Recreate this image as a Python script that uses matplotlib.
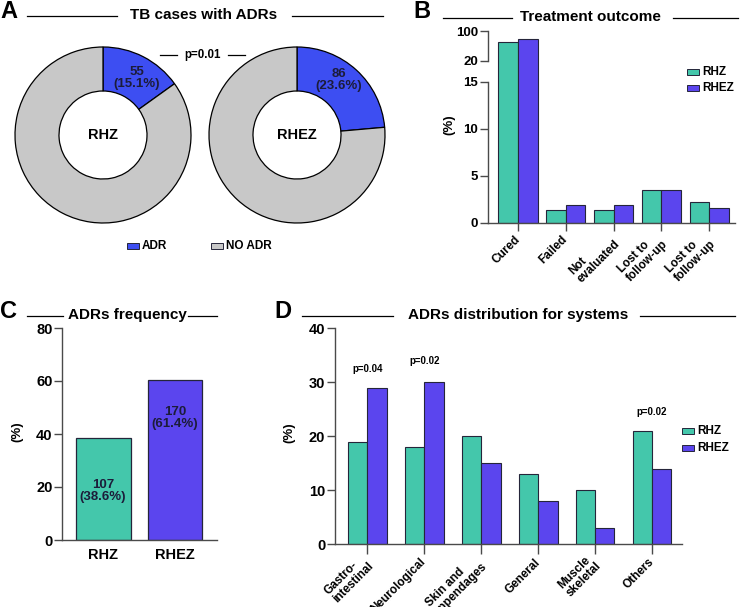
import numpy as np
import matplotlib
matplotlib.use('Agg')
import matplotlib.pyplot as plt
import matplotlib.transforms as mtrans
from matplotlib.patches import Rectangle
from matplotlib.lines import Line2D

plt.rcParams['font.family'] = ['Liberation Sans', 'DejaVu Sans']
plt.rcParams['font.weight'] = 'bold'

# ---- data ----
adr_groups = ['RHZ', 'RHEZ']
adr_counts = [55, 86]
adr_pct = [15.1, 23.6]
pie_legend = ['ADR', 'NO ADR']

outcomes = ['Cured', 'Failed', 'Not\nevaluated', 'Lost to\nfollow-up', 'Lost to\nfollow-up']
outcome_rhz = [70.5, 1.3, 1.3, 3.5, 2.2]
outcome_rhez = [78.5, 1.9, 1.9, 3.5, 1.6]
outcome_yticks = [0, 5, 10, 15, 20, 100]

freq_groups = ['RHZ', 'RHEZ']
freq_pct = [38.6, 60.5]
freq_labels = ['107\n(38.6%)', '170\n(61.4%)']

systems = ['Gastro-\nintestinal', 'Neurological', 'Skin and\nappendages', 'General',
           'Muscle\nskeletal', 'Others']
sys_rhz = [19, 18, 20, 13, 10, 21]
sys_rhez = [29, 30, 15, 8, 3, 14]
sys_pvals = {0: 'p=0.04', 1: 'p=0.02', 5: 'p=0.02'}

TEAL = '#44C7AB'
PURPLE = '#5B45EE'
BLUE = '#3D4EF2'
GREY = '#C8C8C8'
EDGE = '#25253a'
SPINE = '#4a4a4a'

W, H = 740, 607
fig = plt.figure(figsize=(W / 100, H / 100), dpi=100)


def rect(x0, y0, x1, y1):
    return [x0 / W, 1 - y1 / H, (x1 - x0) / W, (y1 - y0) / H]


def px(x, y):
    return x / W, 1 - y / H


def ftext(x, y, s, **kw):
    fig.text(*px(x, y), s, transform=fig.transFigure, **kw)


def hline(x0, x1, y, color='black', lw=0.9):
    fig.lines.append(Line2D([x0 / W, x1 / W], [1 - y / H, 1 - y / H],
                            transform=fig.transFigure, color=color, lw=lw))


def header(letter, lx, ly, title, tx, ty, seg1, seg2):
    ftext(lx, ly, letter, fontsize=17, ha='left', va='center')
    ftext(tx, ty, title, fontsize=11, ha='center', va='center')
    hline(seg1[0], seg1[1], ty + 1)
    hline(seg2[0], seg2[1], ty + 1)


def legend_box(x, y, label, color, fs=8.5):
    fig.patches.append(Rectangle(px(x, y + 3), 12 / W, 6 / H, transform=fig.transFigure,
                                 facecolor=color, edgecolor=EDGE, lw=0.7))
    ftext(x + 15, y, label, fontsize=fs, ha='left', va='center')


def style_axes(ax, ysize):
    for s in ['top', 'right']:
        ax.spines[s].set_visible(False)
    for s in ['left', 'bottom']:
        ax.spines[s].set_color(SPINE)
        ax.spines[s].set_linewidth(1.0)
    ax.tick_params(axis='y', direction='out', length=5.5, width=1.0, color=SPINE,
                   labelsize=ysize, pad=1.5)


def slanted_labels(ax, labels, fs, dx_px):
    ax.set_xticklabels(labels, rotation=45, ha='right', va='center', rotation_mode='anchor',
                       fontsize=fs, multialignment='left', linespacing=1.0)
    shift = mtrans.ScaledTranslation(dx_px / 100, 0, fig.dpi_scale_trans)
    for lab in ax.get_xticklabels():
        lab.set_transform(lab.get_transform() + shift)


# ---- A: donuts ----
header('A', 0, 12, 'TB cases with ADRs', 204, 15, (27, 117), (292, 383))
centers = [(103, 135), (297, 135)]
R = 88
for i, (cx, cy) in enumerate(centers):
    m = 1.03
    ax = fig.add_axes(rect(cx - R * m, cy - R * m, cx + R * m, cy + R * m))
    vals = [adr_pct[i], 100 - adr_pct[i]]
    ax.pie(vals, colors=[BLUE, GREY], startangle=90, counterclock=False,
           wedgeprops=dict(width=0.5, edgecolor='black', linewidth=0.9))
    ax.set_xlim(-m, m)
    ax.set_ylim(-m, m)
    ax.set_aspect('equal')
    ax.text(0, 0, adr_groups[i], ha='center', va='center', fontsize=10.5)
ftext(137, 78, f'{adr_counts[0]}\n({adr_pct[0]}%)', fontsize=9.5, ha='center', va='center',
      color='#1c1c3a', linespacing=1.05)
ftext(339, 80, f'{adr_counts[1]}\n({adr_pct[1]}%)', fontsize=9.5, ha='center', va='center',
      color='#1c1c3a', linespacing=1.05)
ftext(203, 55, 'p=0.01', fontsize=8.3, ha='center', va='center')
hline(160, 177, 55)
hline(228, 245, 55)
legend_box(127, 246, pie_legend[0], BLUE)
legend_box(211, 246, pie_legend[1], GREY)

# ---- B: treatment outcome (broken axis) ----
header('B', 413, 12, 'Treatment outcome', 590, 17, (443, 512), (673, 738))
GAP = 2.23
K = 0.0395


def fwd(y):
    y = np.asarray(y, float)
    return np.where(y <= 15, y, np.where(y < 20, 15 + (y - 15) * GAP / 5,
                                         15 + GAP + (y - 20) * K))


def inv(t):
    t = np.asarray(t, float)
    return np.where(t <= 15, t, np.where(t < 15 + GAP, 15 + (t - 15) * 5 / GAP,
                                         20 + (t - 15 - GAP) / K))


axb = fig.add_axes(rect(488, 31, 735, 222.7))
style_axes(axb, 9.5)
axb.set_yscale('function', functions=(fwd, inv))
xb = np.arange(len(outcomes))
bw = 0.41
axb.bar(xb - bw / 2, outcome_rhz, bw, color=TEAL, edgecolor=EDGE, lw=0.8)
axb.bar(xb + bw / 2, outcome_rhez, bw, color=PURPLE, edgecolor=EDGE, lw=0.8)
xl = -0.628
axb.set_xlim(xl, 4.54)
axb.set_ylim(0, 100)
axb.set_yticks(outcome_yticks)
axb.set_yticklabels([str(v) for v in outcome_yticks])
axb.yaxis.set_minor_locator(matplotlib.ticker.NullLocator())
axb.spines['left'].set_visible(False)
axb.plot([xl, xl], [0, 15], color=SPINE, lw=1.0, clip_on=False)
axb.plot([xl, xl], [20, 100], color=SPINE, lw=1.0, clip_on=False)
axb.set_xticks(xb)
slanted_labels(axb, outcomes, 8.5, -6)
axb.tick_params(axis='x', direction='out', length=5.4, width=1.0, color=SPINE, pad=5.6)
ftext(449, 125, '(%)', fontsize=9.5, rotation=90, ha='center', va='center')
legend_box(687, 72, 'RHZ', TEAL)
legend_box(687, 88, 'RHEZ', PURPLE)

# ---- C: ADRs frequency ----
header('C', 0, 311, 'ADRs frequency', 127, 315, (27, 63), (188, 217))
axc = fig.add_axes(rect(62.3, 328, 217, 540))
style_axes(axc, 10.5)
xc = np.arange(len(freq_groups))
axc.bar(xc, freq_pct, 0.763, color=[TEAL, PURPLE], edgecolor=EDGE, lw=0.9)
axc.set_xlim(-0.572, 1.586)
axc.set_ylim(0, 80)
axc.set_yticks([0, 20, 40, 60, 80])
axc.set_xticks(xc)
axc.set_xticklabels(freq_groups, fontsize=10.5)
axc.tick_params(axis='x', length=0, pad=6)
ftext(103, 491, freq_labels[0], fontsize=9.5, ha='center', va='center', color='#1c1c3a',
      linespacing=1.1)
ftext(175, 418, freq_labels[1], fontsize=9.5, ha='center', va='center', color='#1c1c3a',
      linespacing=1.1)
ftext(17, 432, '(%)', fontsize=9.5, rotation=90, ha='center', va='center')

# ---- D: ADRs by system ----
header('D', 274, 311, 'ADRs distribution for systems', 518, 315, (302, 393), (640, 735))
axd = fig.add_axes(rect(335, 328.3, 681.7, 544.3))
style_axes(axd, 10.5)
xd = np.arange(len(systems))
bwd = 0.34
axd.bar(xd - bwd / 2, sys_rhz, bwd, color=TEAL, edgecolor=EDGE, lw=0.8)
axd.bar(xd + bwd / 2, sys_rhez, bwd, color=PURPLE, edgecolor=EDGE, lw=0.8)
axd.set_xlim(-0.567, 5.52)
axd.set_ylim(0, 40)
axd.set_yticks([0, 10, 20, 30, 40])
axd.set_xticks(xd)
slanted_labels(axd, systems, 8.5, -4)
axd.tick_params(axis='x', direction='out', length=7.2, width=1.0, color=SPINE, pad=4.3)
for i, s in sys_pvals.items():
    top = max(sys_rhz[i], sys_rhez[i])
    axd.annotate(s, (xd[i], top), xytext=(0, 10 if i != 1 else 12), textcoords='offset points',
                 ha='center', va='bottom', fontsize=7)
ftext(289, 433, '(%)', fontsize=9.5, rotation=90, ha='center', va='center')
legend_box(682, 431, 'RHZ', TEAL)
legend_box(682, 448, 'RHEZ', PURPLE)

fig.savefig('out.png', dpi=100)
